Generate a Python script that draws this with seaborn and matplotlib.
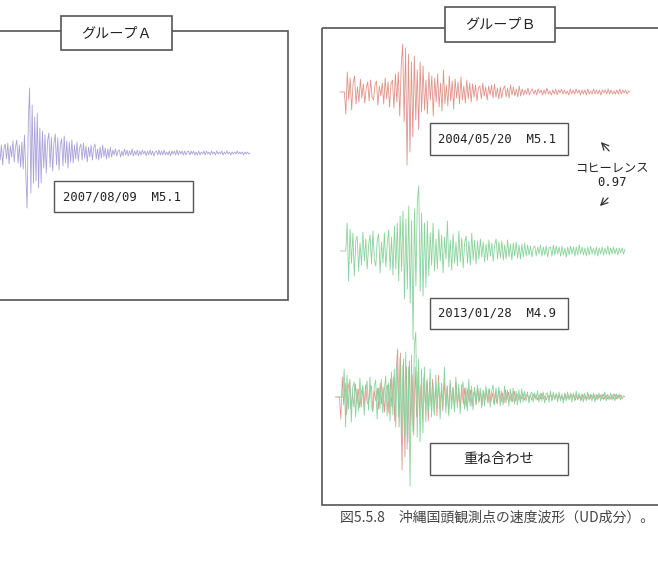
import numpy as np
import pandas as pd
import matplotlib
matplotlib.use("Agg")
import matplotlib.pyplot as plt
import seaborn as sns
from matplotlib.patches import Rectangle

sns.set_theme(style="white")
plt.rcParams['font.family'] = ['Noto Sans CJK JP', 'DejaVu Sans']

# ---- data (waveform amplitudes, arbitrary units, positive = up) ----
group_titles = ["グループＡ", "グループＢ"]
event_labels = ["2007/08/09  M5.1", "2004/05/20  M5.1", "2013/01/28  M4.9", "重ね合わせ"]
coherence_label = "コヒーレンス"
coherence_value = "0.97"
caption = "図5.5.8　沖縄国頭観測点の速度波形（UD成分）。"

wave_a = [6, -9, 4, 11, -7, 8, -12, 5, 9, -6, 10, -11, 7, -4, 12, -9, 6, 13, -10, 8,
          -14, 11, -16, 18, -20,
          -55, 30, 65, -40, 48, -30, 36, -28, 40, -35, 25, -30,
          22, -15, 18, -20, 12, 20, -14, 16, -18, 10, 19, -12, 15, -17, 9, 14, -13, 17, -10, 12,
          -15, 11, -9, 13,
          -10, 8, -6, 11, -8, 5, 9, -7, 10, -5, 7, -9, 6, -4, 8, -7, 5, 9, -6, 4, -7, 6, -5, 8,
          -4, 5, -6, 4, -5, 6,
          -4, 3, -2, 4, -3, 2, 3, -4, 2, -3, 4, -2, 3, -3, 2, -2, 4, -3, 2, -2,
          3, -3, 2, -2, 3, -1, 2, -3, 2, -2, 3, -2, 2, -3, 1, 2, -2, 3, -2, 2,
          -2, 3, -2, 1, -2, 2, -3, 2, -1, 2, -2, 3, -2, 2, -1, 2, -2, 2, -2, 1,
          2, -2, 2, -1, 2, -2, 1, -2, 2, -2, 1, -1, 2, -2, 2, -1, 1, -2, 2, -1,
          1, -2, 2, -1, 1, -1, 2, -2, 1, -1, 2, -1, 1, -2, 1, -1, 1, -1, 2, -1,
          1, -1, 1, -2, 1, -1, 1, -1, 0]

wave_b_red = [0, 0, 0, 0,
              -22, 20, -8, 14, -18, 9, 16, -12, 5, -10, 13, -6, 8, -11, 4, 10, -9, 12, -5, -8,
              7, 11, -13, 6, -4, 9, -12, 14, -7, 10, -15, 8, 12, -16, 18, -10, 20, -24, 26,
              48, -30, 44, -73, 38, -60, 30, -45, 36, -28, 22, -38, 30, -20,
              26, -18, 12, -22, 20, -8, 16, -24, 14, -10, 18, -15, 9, -19, 22, -12, 7, -14, 16, -9,
              11, -17, 13, -6, 10, -12, 15, -8, 6, -11, 12, -7, 9, -10,
              8, -5, 7, -9, 4, 6, -7, 9, -4, 5, -8, 6, -3, 7, -6, 8, -5, 4, -7, 5,
              -6, 3, 6, -5, 4, -6, 7, -3, 5, -4, 3, -5, 6, -4, 3,
              -3, 2, -2, 4, -3, 1, 3, -2, 2, -3, 3, -1, 2, -3, 2, -2, 4, -2, 1, -3,
              2, -2, 3, -3, 2, -1, 3, -2, 2, -2, 1, -3, 3, -2, 2, -2, 3, -1, 2, -3,
              2, -2, 2, -3, 3, -2, 1, -2, 3, -2, 2, -2, 2, -3, 2, -1, 2, -2, 3, -2,
              2, -2, 1, -2, 2, -2, 3, -2, 2, -1, 2, -2, 1, 0]

wave_b_green = [0, 0, 0, 0, 0,
                28, -30, 22, -12, 18, -25, 10, 15, -20, 8, -14, 19, -10, 12, -18, 6, 16, -13, 20, -9,
                -15, 11, 17, -22, 9, -12, 18, -16, 7, 21, -19, 14, -24, 25, -18, 28, -30,
                35, -20, 40, -48, 32, -38, 45, -52, 30, -89, 42, -35, 50, 65, -40, 38, -45, 28, -36, 30,
                -25, 18, -14, 28, -20, 12, -18, 22, -10, 16, -22, 14, -8, 30, -16, 11, -19, 17, -12, 9,
                -15, 20, -11, 13, -17, 8, 15, -12, 10, -14, 18, -9, 11, -13,
                10, -8, 12, -6, 9, -11, 7, -9, 11, -5, 8, -10, 6, 12, -8, 9, -7, 10, -9, 6,
                -8, 11, -6, 7, -9, 8, -5, 9, -7, 6, -8, 7, -6, 8, -5,
                6, -4, 5, -6, 3, 5, -5, 4, -3, 6, -5, 4, -4, 5, -6, 3, 4, -5, 6, -4,
                5, -3, 4, -5, 5, -4, 3, -6, 4, -4, 5, -3, 4, -5, 4, -4, 6, -3, 4, -4,
                3, -5, 4, -4, 5, -3, 3, -4, 4, -5, 3, -3, 4, -4, 3, -3, 5, -4, 3, -3,
                4, -3, 3, -4, 3, -2, 3, -3, 2]

# ---- figure: one canvas axis in pixel units ----
W, H = 658, 562
fig = plt.figure(figsize=(W / 100, H / 100), dpi=100)
ax = fig.add_axes([0, 0, 1, 1])
ax.set_xlim(0, W)
ax.set_ylim(H, 0)
ax.axis("off")

c_purple = "#aaa2da"
c_red = "#e0938a"
c_green = "#8ad39c"
c_box = "#555555"
c_text = "#222222"


def draw_wave(vals, x0, x1, yc, color, lw=0.6, zorder=3):
    n = len(vals)
    df = pd.DataFrame({"x": np.linspace(x0, x1, n),
                       "y": yc - np.asarray(vals, dtype=float)})
    sns.lineplot(data=df, x="x", y="y", ax=ax, color=color, lw=lw,
                 sort=False, estimator=None, zorder=zorder)


def box(x0, y0, x1, y1, lw=1.0, z=5):
    ax.add_patch(Rectangle((x0, y0), x1 - x0, y1 - y0, fill=True, fc="white",
                           ec=c_box, lw=lw, zorder=z))


def frame(x0, y0, x1, y1):
    ax.add_patch(Rectangle((x0, y0), x1 - x0, y1 - y0, fill=False,
                           ec=c_box, lw=1.2, zorder=1))


mono = ["DejaVu Sans Mono"]

# Group A
frame(-10, 31, 288, 300)
box(61, 16, 172, 50, lw=1.2)
ax.text(116.5, 33.5, group_titles[0], ha="center", va="center", fontsize=10.2, color=c_text, zorder=6)
draw_wave(wave_a, -5, 250, 153, c_purple)
box(54, 181, 193, 212)
ax.text(63, 197, event_labels[0], ha="left", va="center", fontsize=8.8,
        family=mono, color=c_text, zorder=6)

# Group B
frame(322, 28, 680, 505)
box(445, 7, 555, 42, lw=1.2)
ax.text(500, 24.5, group_titles[1], ha="center", va="center", fontsize=10.2, color=c_text, zorder=6)

draw_wave(wave_b_red, 340, 630, 92, c_red)
box(430, 123, 568, 155)
ax.text(438, 139, event_labels[1], ha="left", va="center", fontsize=8.8,
        family=mono, color=c_text, zorder=6)

draw_wave(wave_b_green, 340, 625, 251, c_green)
box(430, 298, 568, 329)
ax.text(438, 313.5, event_labels[2], ha="left", va="center", fontsize=8.8,
        family=mono, color=c_text, zorder=6)

draw_wave(wave_b_red, 335, 625, 397, c_red, lw=0.55, zorder=2)
draw_wave(wave_b_green, 337, 622, 397, c_green, zorder=3)
box(430, 443, 568, 475)
ax.text(499, 459, event_labels[3], ha="center", va="center", fontsize=10.2, color=c_text, zorder=6)

# coherence annotation
ax.annotate("", xy=(599, 140), xytext=(611, 153),
            arrowprops=dict(arrowstyle="->", color="#333333", lw=0.9))
ax.annotate("", xy=(598, 208), xytext=(610, 196),
            arrowprops=dict(arrowstyle="->", color="#333333", lw=0.9))
ax.text(612, 168, coherence_label, ha="center", va="center", fontsize=8.8, color=c_text)
ax.text(612, 183, coherence_value, ha="center", va="center", fontsize=8.8, color=c_text,
        family=mono)

# caption
ax.text(340, 518, caption, ha="left", va="center", fontsize=10, color="#444444")

fig.savefig("out.png", dpi=100)
